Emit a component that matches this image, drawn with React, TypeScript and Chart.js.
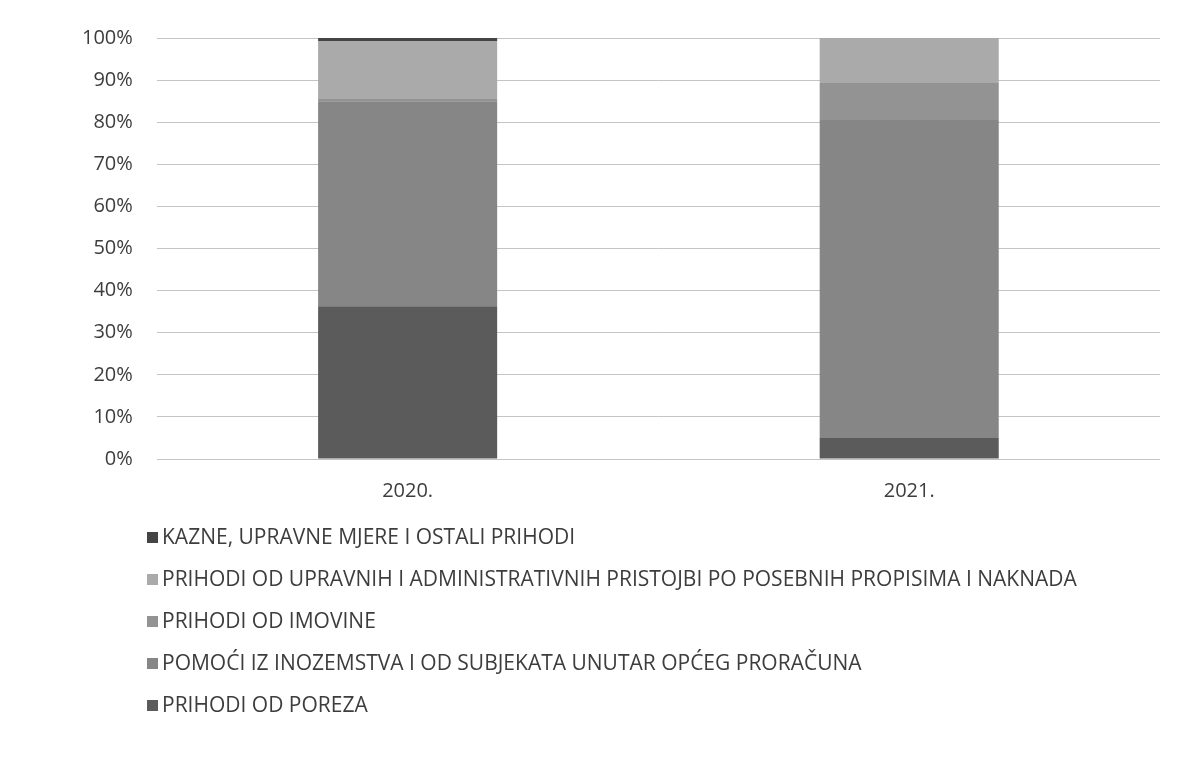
import React, { useEffect, useRef } from "react";
import { Chart, registerables } from "chart.js";

Chart.register(...registerables);

const categories = ["2020.", "2021."];
const porez = [36.3, 5.0];
const pomoci = [48.7, 75.5];
const imovine = [0.5, 8.8];
const upravnih = [13.8, 10.7];
const kazne = [0.7, 0];

const seriesNames = [
  "PRIHODI OD POREZA",
  "POMOĆI IZ INOZEMSTVA I OD SUBJEKATA UNUTAR OPĆEG PRORAČUNA",
  "PRIHODI OD IMOVINE",
  "PRIHODI OD UPRAVNIH I ADMINISTRATIVNIH PRISTOJBI PO POSEBNIH PROPISIMA I NAKNADA",
  "KAZNE, UPRAVNE MJERE I OSTALI PRIHODI",
];
const seriesColors = ["#5b5b5b", "#868686", "#939393", "#aaaaaa", "#444444"];
const yTicks = [0, 10, 20, 30, 40, 50, 60, 70, 80, 90, 100];

const FONT = "'Open Sans', 'Liberation Sans', sans-serif";

const legendPlugin = {
  id: "vertLegend",
  afterDraw(chart: any) {
    const ctx = chart.ctx;
    const ds = chart.data.datasets;
    ctx.save();
    ctx.font = `21px ${FONT}`;
    ctx.textBaseline = "middle";
    ctx.textAlign = "left";
    const x0 = 147;
    const y0 = 537;
    const step = 42;
    for (let i = ds.length - 1, row = 0; i >= 0; i--, row++) {
      const y = y0 + row * step;
      ctx.fillStyle = ds[i].backgroundColor;
      ctx.fillRect(x0, y - 5, 11, 11);
      ctx.fillStyle = "#3d3d3d";
      ctx.fillText(ds[i].label, x0 + 15, y + 1);
    }
    ctx.restore();
  },
};

export default function App() {
  const ref = useRef<HTMLCanvasElement | null>(null);
  useEffect(() => {
    document.body.style.margin = "0";
    const values = [porez, pomoci, imovine, upravnih, kazne];
    const chart = new Chart(ref.current as HTMLCanvasElement, {
      type: "bar",
      data: {
        labels: categories,
        datasets: values.map((v, i) => ({
          label: seriesNames[i],
          data: v,
          backgroundColor: seriesColors[i],
          borderWidth: 0,
          categoryPercentage: 1,
          barPercentage: 0.357,
        })),
      },
      options: {
        animation: false,
        responsive: false,
        layout: { padding: { top: 38, right: 29, bottom: 239, left: 58 } },
        plugins: { legend: { display: false }, tooltip: { enabled: false } },
        scales: {
          x: {
            stacked: true,
            grid: { display: false, drawTicks: false },
            border: { display: false },
            ticks: { color: "#3d3d3d", font: { family: FONT, size: 20 }, padding: 20 },
          },
          y: {
            stacked: true,
            min: 0,
            max: 100,
            afterBuildTicks: (axis: any) => {
              axis.ticks = yTicks.map((v) => ({ value: v }));
            },
            grid: { color: "#c4c4c4", lineWidth: 1, drawTicks: false },
            border: { display: false },
            ticks: {
              color: "#3d3d3d",
              font: { family: FONT, size: 20 },
              padding: 24,
              callback: (v: any) => `${v}%`,
            },
          },
        },
      },
      plugins: [legendPlugin],
    });
    return () => chart.destroy();
  }, []);
  return (
    <div style={{ width: 1189, height: 762, background: "#fff" }}>
      <canvas ref={ref} width={1189} height={762} style={{ display: "block" }} />
    </div>
  );
}
